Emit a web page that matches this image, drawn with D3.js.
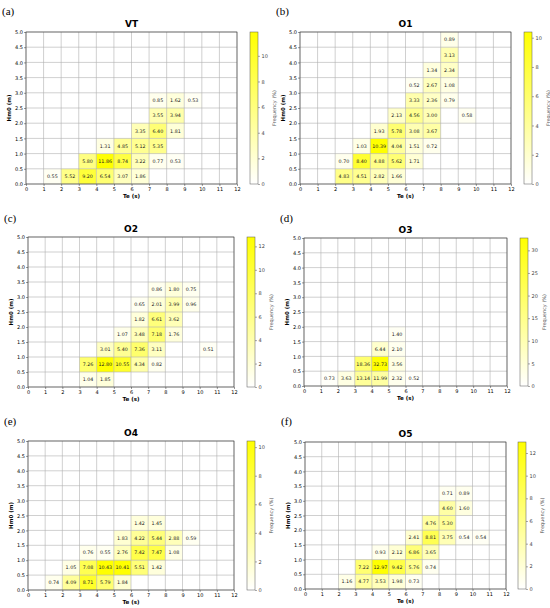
<!DOCTYPE html>
<html><head><meta charset="utf-8">
<script src="https://cdn.jsdelivr.net/npm/d3@7"></script>
<style>body{margin:0;background:#fff}svg{display:block}</style>
</head><body><svg id="c" width="550" height="608"></svg>
<script>
// [Te bin start (s), Hm0 bin start (m), frequency %]
const VT=[[1,0,0.55],[2,0,5.52],[3,0,9.20],[4,0,6.54],[5,0,3.07],[6,0,1.86],
[3,0.5,5.80],[4,0.5,11.86],[5,0.5,8.74],[6,0.5,3.22],[7,0.5,0.77],[8,0.5,0.53],
[4,1,1.31],[5,1,4.85],[6,1,5.12],[7,1,5.35],[6,1.5,3.35],[7,1.5,6.40],[8,1.5,1.81],
[7,2,3.55],[8,2,3.94],[7,2.5,0.85],[8,2.5,1.62],[9,2.5,0.53]];
const O1=[[2,0,4.83],[3,0,4.51],[4,0,2.82],[5,0,1.66],[2,0.5,0.70],[3,0.5,8.40],[4,0.5,4.88],[5,0.5,5.62],[6,0.5,1.71],
[3,1,1.03],[4,1,10.39],[5,1,4.04],[6,1,1.51],[7,1,0.72],[4,1.5,1.93],[5,1.5,5.78],[6,1.5,3.08],[7,1.5,3.67],
[5,2,2.13],[6,2,4.56],[7,2,3.00],[9,2,0.58],[6,2.5,3.33],[7,2.5,2.36],[8,2.5,0.79],[6,3,0.52],[7,3,2.67],[8,3,1.08],
[7,3.5,1.34],[8,3.5,2.34],[8,4,3.13],[8,4.5,0.89]];
const O2=[[3,0,1.04],[4,0,1.85],[3,0.5,7.26],[4,0.5,12.80],[5,0.5,10.55],[6,0.5,4.34],[7,0.5,0.82],
[4,1,3.01],[5,1,5.40],[6,1,7.36],[7,1,3.11],[10,1,0.51],[5,1.5,1.07],[6,1.5,3.48],[7,1.5,7.18],[8,1.5,1.76],
[6,2,1.82],[7,2,6.61],[8,2,3.62],[6,2.5,0.65],[7,2.5,2.01],[8,2.5,3.99],[9,2.5,0.96],[7,3,0.86],[8,3,1.80],[9,3,0.75]];
const O3=[[1,0,0.73],[2,0,3.63],[3,0,13.14],[4,0,11.99],[5,0,2.32],[6,0,0.52],[3,0.5,18.36],[4,0.5,32.73],[5,0.5,3.56],
[4,1,6.44],[5,1,2.10],[5,1.5,1.40]];
const O4=[[1,0,0.74],[2,0,4.09],[3,0,8.71],[4,0,5.79],[5,0,1.84],[2,0.5,1.05],[3,0.5,7.08],[4,0.5,10.43],[5,0.5,10.41],[6,0.5,5.51],[7,0.5,1.42],
[3,1,0.76],[4,1,0.55],[5,1,2.76],[6,1,7.42],[7,1,7.47],[8,1,1.08],[5,1.5,1.83],[6,1.5,4.22],[7,1.5,5.44],[8,1.5,2.88],[9,1.5,0.59],
[6,2,1.42],[7,2,1.45]];
const O5=[[2,0,1.16],[3,0,4.77],[4,0,3.53],[5,0,1.98],[6,0,0.73],[3,0.5,7.22],[4,0.5,12.97],[5,0.5,9.42],[6,0.5,5.76],[7,0.5,0.74],
[4,1,0.93],[5,1,2.12],[6,1,6.86],[7,1,3.65],[6,1.5,2.41],[7,1.5,8.81],[8,1.5,3.75],[9,1.5,0.54],[10,1.5,0.54],
[7,2,4.76],[8,2,5.30],[8,2.5,4.60],[9,2.5,1.60],[8,3,0.71],[9,3,0.89]];
const titles=["VT","O1","O2","O3","O4","O5"];
const letters=["(a)","(b)","(c)","(d)","(e)","(f)"];
const datasets=[VT,O1,O2,O3,O4,O5];
const cbTicks=[[0,2,4,6,8,10],[0,2,4,6,8,10],[0,2,4,6,8,10,12],[0,5,10,15,20,25,30],[0,2,4,6,8,10],[0,2,4,6,8,10,12]];
const xTicks=d3.range(0,13), yTicks=d3.range(0,5.01,0.5);

const L=[{x0:26,x1:237,y0:32,y1:184,cb:250,ly:15},{x0:300,x1:511,y0:32,y1:184,cb:524,ly:15},
{x0:28,x1:234,y0:237,y1:387,cb:247,ly:222},{x0:304,x1:507,y0:238,y1:386,cb:520,ly:222},
{x0:28,x1:234,y0:441,y1:590,cb:247,ly:425},{x0:305,x1:506,y0:442,y1:589,cb:518,ly:425}];
const svg=d3.select("#c");
const defs=svg.append("defs");
const lg=defs.append("linearGradient").attr("id","g").attr("x1",0).attr("y1",1).attr("x2",0).attr("y2",0);
lg.append("stop").attr("offset",0).attr("stop-color","#ffffff");
lg.append("stop").attr("offset",1).attr("stop-color","#ffff00");
const F="DejaVu Sans, sans-serif";
datasets.forEach((data,i)=>{
  const l=L[i], g=svg.append("g");
  const x=d3.scaleLinear().domain([0,12]).range([l.x0,l.x1]);
  const y=d3.scaleLinear().domain([0,5]).range([l.y1,l.y0]);
  const vmax=d3.max(data,d=>d[2]);
  const col=d3.scaleLinear().domain([0,vmax]).range(["#ffffff","#ffff00"]);
  g.append("text").attr("x",l.x0-24).attr("y",l.ly).attr("font-family","Liberation Serif, serif").attr("font-size",11).text(letters[i]);
  g.append("text").attr("x",(l.x0+l.x1)/2).attr("y",l.y0-5).attr("text-anchor","middle").attr("font-family",F).attr("font-weight","bold").attr("font-size",9).text(titles[i]);
  g.selectAll("rect.c").data(data).join("rect").attr("x",d=>x(d[0])).attr("y",d=>y(d[1]+0.5)).attr("width",x(1)-x(0)).attr("height",y(0)-y(0.5)).attr("fill",d=>col(d[2]));
  g.selectAll("line.v").data(xTicks).join("line").attr("x1",d=>x(d)).attr("x2",d=>x(d)).attr("y1",l.y0).attr("y2",l.y1).attr("stroke","#b0b0b0").attr("stroke-width",0.6);
  g.selectAll("line.h").data(yTicks).join("line").attr("y1",d=>y(d)).attr("y2",d=>y(d)).attr("x1",l.x0).attr("x2",l.x1).attr("stroke","#b0b0b0").attr("stroke-width",0.6);
  g.selectAll("text.v").data(data).join("text").attr("x",d=>x(d[0]+0.5)).attr("y",d=>y(d[1]+0.25)+1.7).attr("text-anchor","middle").attr("font-family",F).attr("font-size",4.8).attr("fill","#222").text(d=>d[2].toFixed(2));
  const ax=g.append("g").attr("transform",`translate(0,${l.y1})`).call(d3.axisBottom(x).tickValues(xTicks).tickSize(2).tickPadding(1).tickFormat(d3.format("d")));
  const ay=g.append("g").attr("transform",`translate(${l.x0},0)`).call(d3.axisLeft(y).tickValues(yTicks).tickSize(2).tickPadding(1).tickFormat(d3.format(".1f")));
  [ax,ay].forEach(a=>{a.selectAll("text").attr("font-size",5).attr("font-family",F);a.select(".domain").remove();a.selectAll("line").attr("stroke","#333").attr("stroke-width",0.5);});
  g.append("rect").attr("x",l.x0).attr("y",l.y0).attr("width",l.x1-l.x0).attr("height",l.y1-l.y0).attr("fill","none").attr("stroke","#333").attr("stroke-width",0.6);
  g.append("text").attr("x",(l.x0+l.x1)/2).attr("y",l.y1+14).attr("text-anchor","middle").attr("font-family",F).attr("font-weight","bold").attr("font-size",5.5).text("Te (s)");
  g.append("text").attr("transform",`translate(${l.x0-15},${(l.y0+l.y1)/2}) rotate(-90)`).attr("text-anchor","middle").attr("font-family",F).attr("font-weight","bold").attr("font-size",5.5).text("Hm0 (m)");
  // colorbar
  const cy=d3.scaleLinear().domain([0,vmax]).range([l.y1,l.y0]);
  g.append("rect").attr("x",l.cb).attr("y",l.y0).attr("width",8).attr("height",l.y1-l.y0).attr("fill","url(#g)").attr("stroke","#555").attr("stroke-width",0.5);
  const ac=g.append("g").attr("transform",`translate(${l.cb+8},0)`).call(d3.axisRight(cy).tickValues(cbTicks[i]).tickSize(2).tickPadding(1.5));
  ac.select(".domain").remove();ac.selectAll("text").attr("font-size",5).attr("font-family",F).attr("fill","#444");ac.selectAll("line").attr("stroke","#555").attr("stroke-width",0.5);
  g.append("text").attr("transform",`translate(${l.cb+26},${(l.y0+l.y1)/2}) rotate(-90)`).attr("text-anchor","middle").attr("font-family",F).attr("font-size",5).attr("fill","#555").text("Frequency (%)");
});
</script></body></html>
